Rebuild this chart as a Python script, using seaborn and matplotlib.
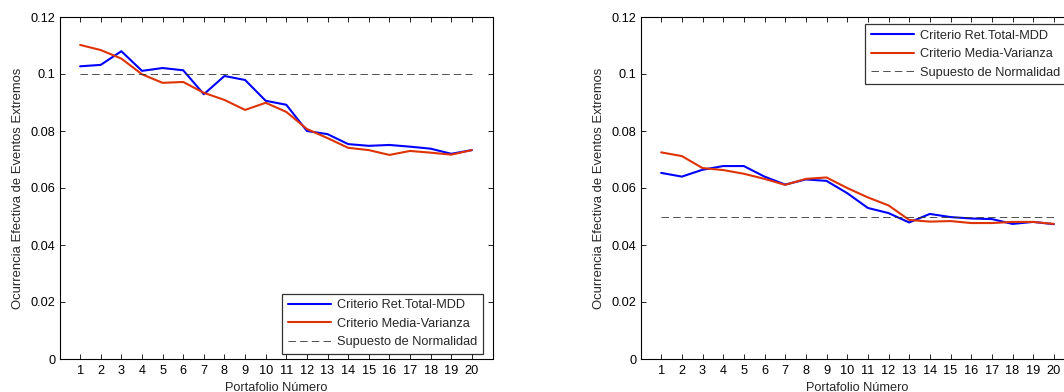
import matplotlib
matplotlib.use("Agg")
import matplotlib.pyplot as plt
import numpy as np
import pandas as pd
import seaborn as sns

# Portfolio numbers shared by both panels
portafolios = list(range(1, 21))

# Left panel: observed extreme-event frequency (theoretical 10%)
izq_ret_total_mdd = [0.1027, 0.1032, 0.1080, 0.1011, 0.1021, 0.1013, 0.0929, 0.0993, 0.0979, 0.0906,
                     0.0892, 0.0800, 0.0789, 0.0754, 0.0748, 0.0751, 0.0745, 0.0738, 0.0720, 0.0733]
izq_media_varianza = [0.1102, 0.1084, 0.1054, 0.0999, 0.0969, 0.0972, 0.0934, 0.0909, 0.0874, 0.0899,
                      0.0867, 0.0807, 0.0775, 0.0741, 0.0733, 0.0716, 0.0730, 0.0724, 0.0717, 0.0733]
izq_normalidad = 0.10

# Right panel: observed extreme-event frequency (theoretical 5%)
der_ret_total_mdd = [0.0653, 0.0640, 0.0664, 0.0677, 0.0677, 0.0640, 0.0612, 0.0630, 0.0625, 0.0582,
                     0.0530, 0.0512, 0.0479, 0.0509, 0.0498, 0.0493, 0.0491, 0.0474, 0.0481, 0.0473]
der_media_varianza = [0.0725, 0.0712, 0.0670, 0.0663, 0.0650, 0.0632, 0.0611, 0.0632, 0.0637, 0.0600,
                      0.0567, 0.0539, 0.0488, 0.0482, 0.0484, 0.0477, 0.0477, 0.0481, 0.0481, 0.0474]
der_normalidad = 0.05

etiquetas_series = ["Criterio Ret.Total-MDD", "Criterio Media-Varianza", "Supuesto de Normalidad"]
y_ticks = [0, 0.02, 0.04, 0.06, 0.08, 0.10, 0.12]
y_tick_labels = ["0", "0.02", "0.04", "0.06", "0.08", "0.1", "0.12"]

sns.set_theme(style="white")
plt.rcParams["font.family"] = ["Liberation Sans", "DejaVu Sans"]
FS = 9.2
plt.rcParams["font.size"] = FS

W, H = 1064, 392
fig = plt.figure(figsize=(W / 100, H / 100), dpi=100)
fig.patch.set_facecolor("white")

colores = {etiquetas_series[0]: "#0000ff", etiquetas_series[1]: "#de3305"}


def panel(rect, ret_mdd, media_var, normal, leg_anchor, leg_loc):
    ax = fig.add_axes([rect[0] / W, 1 - (rect[1] + rect[3]) / H, rect[2] / W, rect[3] / H])
    df = pd.DataFrame({
        "Portafolio": portafolios * 2,
        "Ocurrencia": ret_mdd + media_var,
        "Serie": [etiquetas_series[0]] * 20 + [etiquetas_series[1]] * 20,
    })
    sns.lineplot(data=df, x="Portafolio", y="Ocurrencia", hue="Serie",
                 hue_order=etiquetas_series[:2], palette=colores,
                 linewidth=1.5, ax=ax, legend=False)
    df_n = pd.DataFrame({"Portafolio": portafolios, "Ocurrencia": [normal] * 20})
    sns.lineplot(data=df_n, x="Portafolio", y="Ocurrencia", color="#333333",
                 linewidth=0.6, linestyle=(0, (9, 5)), ax=ax, legend=False)
    ax.set_xlim(0, 21)
    ax.set_ylim(0, 0.12)
    ax.set_xticks(portafolios)
    ax.set_xticklabels([str(p) for p in portafolios])
    ax.set_yticks(y_ticks)
    ax.set_yticklabels(y_tick_labels)
    ax.tick_params(direction="in", length=3.5, width=0.6, top=True, right=True,
                   bottom=True, left=True, labelsize=FS, colors="black", pad=4)
    ax.tick_params(axis="y", pad=3)
    for s in ax.spines.values():
        s.set_visible(True)
        s.set_color("black")
        s.set_linewidth(0.8)
    ax.set_xlabel("Portafolio Número", fontsize=FS, labelpad=4)
    ax.set_ylabel("Ocurrencia Efectiva de Eventos Extremos", fontsize=FS + 0.2, labelpad=5)
    handles = ax.get_lines()[:3]
    leg = ax.legend(handles, etiquetas_series, loc=leg_loc,
                    bbox_to_anchor=(leg_anchor[0] / W, 1 - leg_anchor[1] / H),
                    bbox_transform=fig.transFigure, borderaxespad=0,
                    fancybox=False, frameon=True, fontsize=FS, handlelength=3.4,
                    handletextpad=0.45, labelspacing=0.5, borderpad=0.45)
    leg.get_frame().set_edgecolor("black")
    leg.get_frame().set_linewidth(0.9)
    return ax


panel((59.5, 17, 433, 342), izq_ret_total_mdd, izq_media_varianza, izq_normalidad,
      (483, 354), "lower right")
panel((640.5, 17, 434, 342), der_ret_total_mdd, der_media_varianza, der_normalidad,
      (865, 24), "upper left")

fig.savefig("out.png", dpi=100, facecolor="white")
